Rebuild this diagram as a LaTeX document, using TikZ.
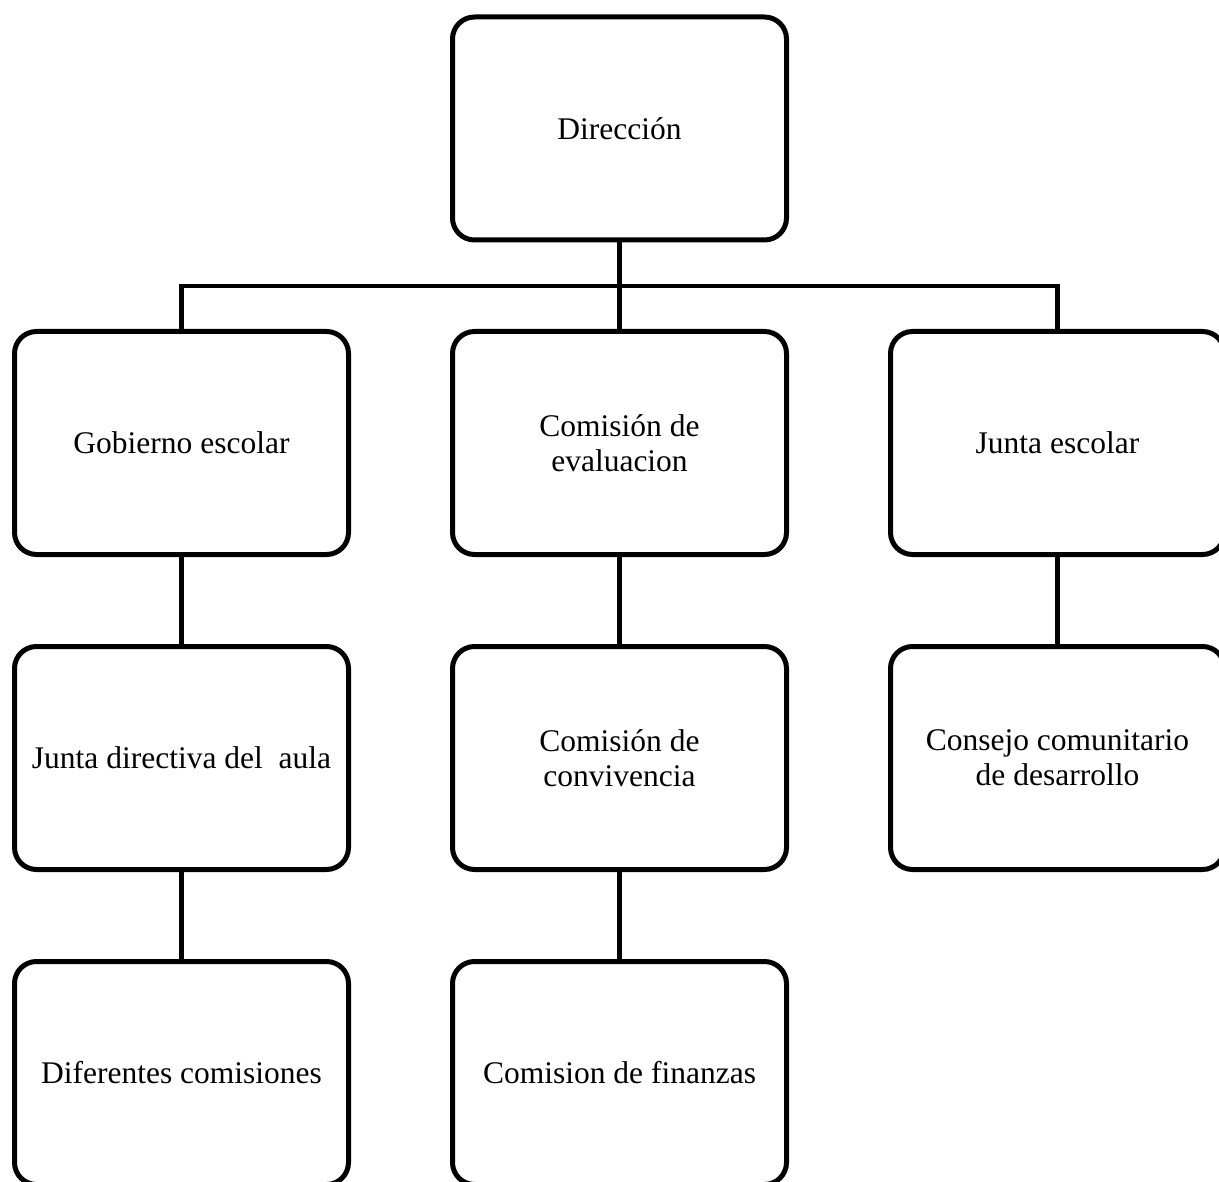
\documentclass[tikz,border=0pt]{standalone}
\usepackage{fontspec}
\setmainfont{Liberation Serif}
\begin{document}
\begin{tikzpicture}[x=1pt,y=-1pt,
  orgbox/.style={draw=black, line width=5pt, rounded corners=22pt, fill=white,
    minimum width=334pt, minimum height=223pt, align=center, inner sep=0pt,
    font=\fontsize{31.5}{35}\selectfont},
  link/.style={draw=black, line width=4.5pt}]
\useasboundingbox (0,0) rectangle (1219,1182);
\clip (0,0) rectangle (1219,1182);
\node[orgbox] (dir) at (619.5,128.5) {Dirección};
\node[orgbox] (gob) at (181.5,443) {Gobierno escolar};
\node[orgbox] (eva) at (619.5,443) {Comisión de\\evaluacion};
\node[orgbox] (jes) at (1057.5,443) {Junta escolar};
\node[orgbox] (jda) at (181.5,758) {Junta directiva del\ \ aula};
\node[orgbox] (con) at (619.5,758) {Comisión de\\convivencia};
\node[orgbox] (ccd) at (1057.5,758) {Consejo comunitario\\de desarrollo};
\node[orgbox] (dco) at (181.5,1073) {Diferentes comisiones};
\node[orgbox] (fin) at (619.5,1073) {Comision de finanzas};
\coordinate (bus) at (619.5,286);
\draw[link] (dir.south) -- (eva.north);
\draw[link] (gob.north) |- (bus) -| (jes.north);
\draw[link] (gob.south) -- (jda.north);
\draw[link] (jda.south) -- (dco.north);
\draw[link] (eva.south) -- (con.north);
\draw[link] (con.south) -- (fin.north);
\draw[link] (jes.south) -- (ccd.north);
\end{tikzpicture}
\end{document}
